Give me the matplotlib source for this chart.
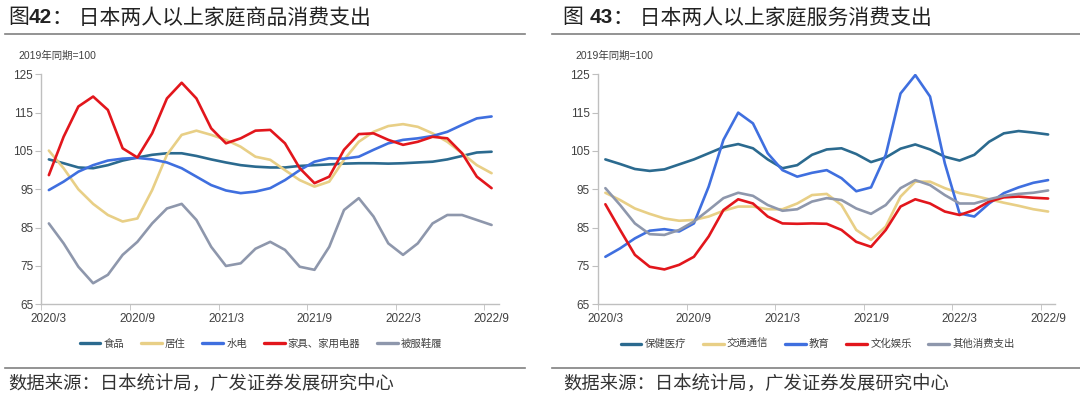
import matplotlib
matplotlib.use("Agg")
import matplotlib.pyplot as plt
from matplotlib.lines import Line2D

plt.rcParams['font.family'] = ['Liberation Sans', 'Noto Sans CJK SC', 'DejaVu Sans']

# monthly, 2020/3 .. 2022/9 (31 months), 2019 same period = 100
months = ["2020/3", "2020/9", "2021/3", "2021/9", "2022/3", "2022/9"]

# figure 42: goods
food = [102.8, 101.8, 100.7, 100.5, 101.3, 102.5, 103.3, 104.0, 104.4, 104.4, 103.7,
        102.8, 102.0, 101.3, 100.9, 100.7, 100.7, 101.1, 101.3, 101.5, 101.7, 101.8,
        101.8, 101.7, 101.8, 102.0, 102.2, 102.8, 103.7, 104.6, 104.8]
housing = [105.1, 100.5, 95.0, 91.2, 88.3, 86.6, 87.4, 94.8, 104.0, 109.2, 110.3,
           109.2, 107.9, 106.1, 103.5, 102.7, 100.0, 97.4, 95.7, 97.0, 102.7, 107.4,
           110.0, 111.5, 112.0, 111.3, 109.6, 107.4, 104.4, 101.3, 99.2]
utilities = [94.8, 97.0, 99.6, 101.3, 102.5, 103.0, 103.2, 102.8, 102.0, 100.5, 98.3,
             96.1, 94.7, 94.0, 94.4, 95.3, 97.4, 100.0, 102.2, 103.1, 103.0, 103.5,
             105.3, 107.0, 107.9, 108.3, 108.9, 110.0, 111.8, 113.5, 114.0]
appliances = [98.7, 108.7, 116.6, 119.2, 115.7, 105.7, 103.3, 109.6, 118.7, 122.8, 118.7,
              110.9, 107.0, 108.3, 110.3, 110.5, 107.0, 100.5, 96.6, 98.3, 105.3, 109.4,
              109.6, 107.9, 106.6, 107.4, 108.7, 108.3, 104.4, 98.3, 95.3]
clothing = [86.1, 80.9, 74.8, 70.5, 72.7, 77.9, 81.3, 86.1, 90.0, 91.2, 87.0,
            80.0, 75.0, 75.7, 79.5, 81.3, 79.2, 74.8, 74.0, 80.0, 89.6, 92.7,
            87.9, 80.9, 77.9, 80.9, 86.1, 88.3, 88.3, 87.0, 85.7]

# figure 43: services
health = [102.8, 101.6, 100.3, 99.8, 100.2, 101.5, 102.8, 104.4, 106.0, 106.8, 105.7,
          102.8, 100.5, 101.3, 104.0, 105.4, 105.7, 104.2, 102.1, 103.3, 105.6, 106.7,
          105.4, 103.5, 102.5, 104.0, 107.4, 109.6, 110.2, 109.8, 109.3]
transport = [94.1, 92.2, 90.0, 88.6, 87.4, 86.8, 87.0, 87.9, 89.4, 90.5, 90.5,
             89.8, 89.8, 91.3, 93.5, 93.8, 90.9, 84.4, 81.8, 85.3, 93.1, 97.0,
             97.0, 95.3, 94.0, 93.3, 92.4, 91.5, 90.7, 89.8, 89.2]
education = [77.4, 79.6, 82.2, 84.2, 84.6, 84.0, 86.1, 95.7, 107.9, 115.0, 112.2,
             104.4, 100.0, 98.3, 99.3, 100.0, 97.9, 94.5, 95.5, 104.0, 120.0, 124.8,
             119.2, 101.8, 88.7, 87.9, 91.3, 94.0, 95.5, 96.7, 97.4]
culture = [91.1, 84.4, 77.9, 74.8, 74.1, 75.3, 77.4, 82.7, 89.6, 92.4, 91.3,
           87.9, 86.1, 86.0, 86.1, 86.0, 84.4, 81.3, 80.0, 84.4, 90.5, 92.4,
           91.3, 89.2, 88.3, 89.6, 91.8, 92.9, 93.1, 92.8, 92.6]
other = [95.3, 90.9, 86.1, 83.3, 83.1, 84.4, 86.6, 89.6, 92.7, 94.1, 93.3,
         90.9, 89.4, 89.8, 91.8, 92.7, 92.2, 90.0, 88.6, 90.9, 95.3, 97.4,
         96.1, 93.5, 91.3, 91.3, 92.4, 93.3, 93.8, 94.1, 94.7]

colors = ['#2B6A8F', '#E8CF86', '#3F6FDF', '#E2161C', '#8E97AC']
axis_grey = '#BFBFBF'
text_grey = '#404040'

fig = plt.figure(figsize=(10.8, 3.98), dpi=100)


def draw_panel(ax, series, names):
    x = range(len(series[0]))
    for s, name, c in zip(series, names, colors):
        ax.plot(x, s, color=c, lw=1.9, label=name,
                solid_capstyle='round', solid_joinstyle='round')
    ax.set_xlim(-0.5, len(series[0]) - 0.5)
    ax.set_ylim(65, 125)
    ax.set_yticks(range(65, 126, 10))
    ax.set_xticks(range(0, 31, 6))
    ax.set_xticklabels(months)
    ax.set_xticks([i - 0.5 for i in range(0, 31, 6)], minor=True)
    ax.tick_params(axis='x', which='major', length=0, pad=6, labelsize=8.5, labelcolor=text_grey)
    ax.tick_params(axis='x', which='minor', length=4, color=axis_grey, direction='out')
    ax.tick_params(axis='y', length=4, color=axis_grey, labelsize=8.5, labelcolor=text_grey, pad=2)
    for side in ['top', 'right']:
        ax.spines[side].set_visible(False)
    for side in ['left', 'bottom']:
        ax.spines[side].set_color(axis_grey)
        ax.spines[side].set_linewidth(1.0)
    ax.text(-0.05, 1.06, "2019年同期=100", transform=ax.transAxes, fontsize=7.5,
            color=text_grey, ha='left', va='bottom')
    leg = ax.legend(loc='upper center', bbox_to_anchor=(0.48, -0.11), ncol=5, frameon=False,
                    fontsize=7.5, handlelength=2.0, handletextpad=0.3, columnspacing=1.6)
    for t in leg.get_texts():
        t.set_color(text_grey)
    for h in leg.get_lines():
        h.set_linewidth(2.4)


ax1 = fig.add_axes([0.0384, 0.2354, 0.4236, 0.5779])
draw_panel(ax1, [food, housing, utilities, appliances, clothing],
           ["食品", "居住", "水电", "家具、家用电器", "被服鞋履"])

ax2 = fig.add_axes([0.5537, 0.2354, 0.4236, 0.5779])
draw_panel(ax2, [health, transport, education, culture, other],
           ["保健医疗", "交通通信", "教育", "文化娱乐", "其他消费支出"])


def title(x, head, num, rest):
    t1 = fig.text(x, 0.955, head, fontsize=15, color='#222222', va='center', ha='left')
    t2 = fig.add_artist(plt.Annotation(num, xy=(1, 0), xycoords=t1, fontsize=15,
                                       fontweight='bold', color='#222222',
                                       va='bottom', ha='left'))
    fig.add_artist(plt.Annotation("： " + rest, xy=(1, 0), xycoords=t2, fontsize=15,
                                  color='#222222', va='bottom', ha='left'))


title(8 / 1080, "图", "42", "日本两人以上家庭商品消费支出")
title(563 / 1080, "图 ", "43", "日本两人以上家庭服务消费支出")

# rules under titles and above source lines
for x0, x1 in [(5, 525), (552, 1080)]:
    fig.add_artist(Line2D([x0 / 1080, x1 / 1080], [1 - 34 / 398] * 2, color='#808080', lw=1.2))
    fig.add_artist(Line2D([x0 / 1080, x1 / 1080], [1 - 368 / 398] * 2, color='#808080', lw=1.2))

source = "数据来源：日本统计局，广发证券发展研究中心"
fig.text(8 / 1080, 1 - 385 / 398, source, fontsize=13.2, color='#333333', va='center', ha='left')
fig.text(563 / 1080, 1 - 385 / 398, source, fontsize=13.2, color='#333333', va='center', ha='left')

fig.savefig("out.png", dpi=100, facecolor='white')
